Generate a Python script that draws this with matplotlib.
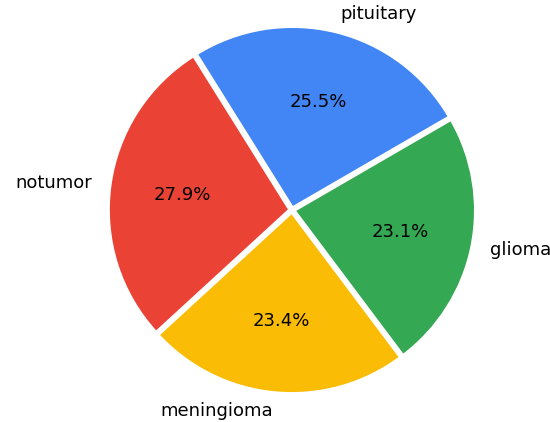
import matplotlib.pyplot as plt

labels = ["pituitary", "glioma", "meningioma", "notumor"]
shares = [25.5, 23.1, 23.4, 27.9]
colors = ["#4285F4", "#34A853", "#FBBC05", "#EA4335"]
explode = [0.01, 0.01, 0.01, 0.01]

fig = plt.figure(figsize=(5.5, 4.22), dpi=100)
ax = fig.add_axes([0.0, 0.0, 1.0, 1.0])

ax.pie(shares, labels=labels, colors=colors, explode=explode,
       autopct="%1.1f%%", startangle=122, counterclock=False,
       textprops={"fontsize": 13},
       wedgeprops={"edgecolor": "white", "linewidth": 2.5})
ax.set_aspect("auto")
ax.set_xlim(-1.604, 1.418)
ax.set_ylim(-1.165, 1.154)
ax.axis("off")

fig.savefig("out.png", dpi=100)
